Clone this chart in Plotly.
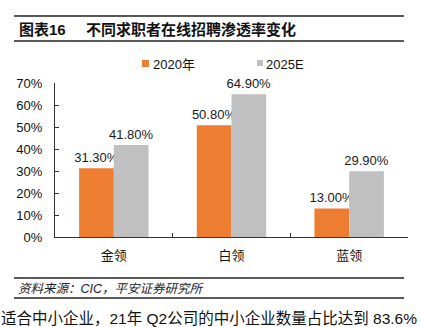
import plotly.graph_objects as go

categories = ["金领", "白领", "蓝领"]
series_2020 = [31.3, 50.8, 13.0]
series_2025 = [41.8, 64.9, 29.9]
series_names = ["2020年", "2025E"]
y_tick_vals = [0, 10, 20, 30, 40, 50, 60, 70]
y_tick_text = ["0%", "10%", "20%", "30%", "40%", "50%", "60%", "70%"]

ORANGE = "#ED7D31"
GRAY = "#C0C0C0"
FONT = "Arial, 'Liberation Sans', 'Noto Sans CJK SC', sans-serif"

W, H = 421, 327
L, R, T, B = 55, 13, 83, 90
PW, PH = W - L - R, H - T - B


def px(x):
    return (x - L) / PW


def py(y):
    return (H - B - y) / PH


fig = go.Figure()
for name, vals, col in [(series_names[0], series_2020, ORANGE), (series_names[1], series_2025, GRAY)]:
    fig.add_trace(go.Bar(
        x=categories, y=vals, name=name, marker=dict(color=col, line=dict(width=0)),
        texttemplate="%{y:.2f}%", textposition="outside", cliponaxis=False, constraintext="none",
        textfont=dict(size=13, color="#1a1a1a", family=FONT),
    ))

shapes = []
for yy in [16, 41, 278, 298]:
    shapes.append(dict(type="line", xref="paper", yref="paper", x0=px(14), x1=px(404),
                       y0=py(yy), y1=py(yy), line=dict(color="#222", width=1.3)))
# legend squares
shapes.append(dict(type="rect", xref="paper", yref="paper", x0=px(142), x1=px(149),
                   y0=py(67), y1=py(60), fillcolor=ORANGE, line=dict(width=0)))
shapes.append(dict(type="rect", xref="paper", yref="paper", x0=px(257), x1=px(263),
                   y0=py(66), y1=py(60), fillcolor=GRAY, line=dict(width=0)))

annotations = [
    dict(text="<b>图表16</b>", x=px(17), y=py(29), xref="paper", yref="paper",
         xanchor="left", yanchor="middle", showarrow=False, font=dict(size=15, family=FONT, color="#111")),
    dict(text="<b>不同求职者在线招聘渗透率变化</b>", x=px(84), y=py(29), xref="paper", yref="paper",
         xanchor="left", yanchor="middle", showarrow=False, font=dict(size=15, family=FONT, color="#111")),
    dict(text="<i>资料来源：CIC，平安证券研究所</i>", x=px(16), y=py(289), xref="paper", yref="paper",
         xanchor="left", yanchor="middle", showarrow=False, font=dict(size=12.5, family=FONT, color="#222")),
    dict(text="适合中小企业，21年 Q2公司的中小企业数量占比达到 83.6%", x=px(-1), y=py(318), xref="paper", yref="paper",
         xanchor="left", yanchor="middle", showarrow=False, font=dict(size=15.5, family=FONT, color="#111")),
    dict(text=series_names[0], x=px(151), y=py(64), xref="paper", yref="paper",
         xanchor="left", yanchor="middle", showarrow=False, font=dict(size=13, family=FONT, color="#111")),
    dict(text=series_names[1], x=px(264), y=py(64), xref="paper", yref="paper",
         xanchor="left", yanchor="middle", showarrow=False, font=dict(size=13, family=FONT, color="#111")),
]

fig.update_layout(
    width=W, height=H, margin=dict(l=L, r=R, t=T, b=B, pad=0),
    paper_bgcolor="white", plot_bgcolor="white",
    barmode="group", bargap=0.41, bargroupgap=0,
    showlegend=False,
    font=dict(family=FONT, size=13, color="#111"),
    shapes=shapes, annotations=annotations,
    xaxis=dict(showline=True, linecolor="#333", linewidth=1.3, ticks="inside", ticklen=4,
               tickson="boundaries", tickcolor="#333", showgrid=False,
               tickfont=dict(size=13, family=FONT, color="#111"), ticklabelstandoff=6),
    yaxis=dict(range=[0, 70], tickmode="array", tickvals=y_tick_vals, ticktext=y_tick_text,
               showline=True, linecolor="#333",
               linewidth=1.3, ticks="inside", ticklen=4, tickcolor="#333", showgrid=False, zeroline=False,
               tickfont=dict(size=13, family=FONT, color="#111"), ticklabelstandoff=9),
)

fig.write_html("out.html")
